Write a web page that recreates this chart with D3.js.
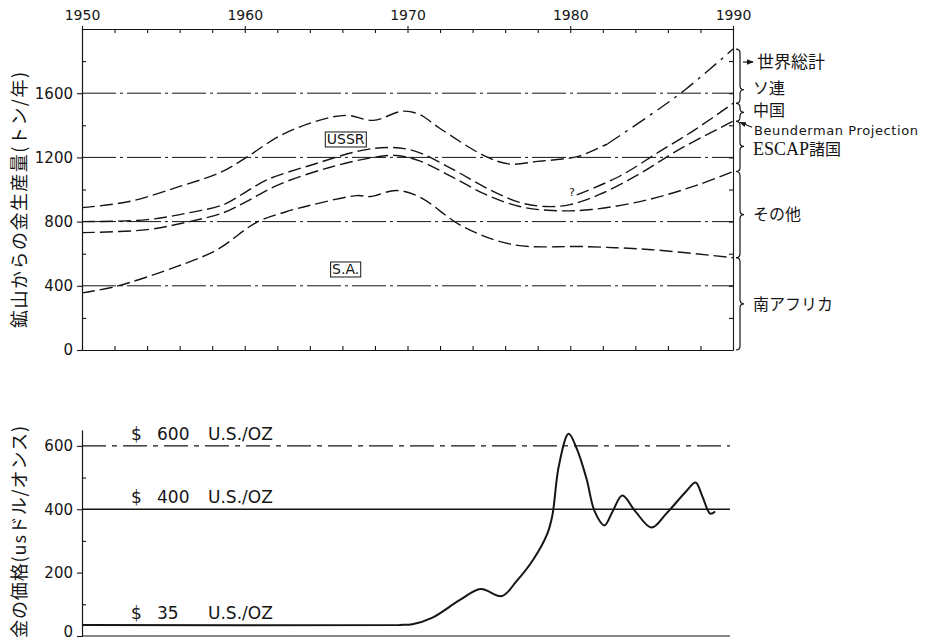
<!DOCTYPE html>
<html>
<head>
<meta charset="utf-8">
<script src="https://cdn.jsdelivr.net/npm/d3@7"></script>
<style>
  body { margin: 0; background: #fff; }
  svg { display: block; }
</style>
</head>
<body>
<svg id="chart" width="925" height="643"></svg>
<script>
// values
const decadeTicks = [1950, 1960, 1970, 1980, 1990]
const prodTicks = [0, 400, 800, 1200, 1600]
const priceTicks = [0, 200, 400, 600]

// [year, t/yr]
const worldTotal = [[1950, 887], [1952.9, 925], [1956, 1019], [1958.5, 1106], [1960.1, 1200], [1962.1, 1331],
  [1964.2, 1419], [1966.2, 1462], [1967.9, 1431], [1969.7, 1488], [1970.7, 1469], [1972, 1380],
  [1974.8, 1206], [1976.3, 1158], [1978, 1175], [1979.5, 1190], [1980.5, 1206], [1982.3, 1285]]
const worldProjection = [[1982.3, 1285], [1984.8, 1456], [1987.1, 1625], [1990, 1875]]
const ussrBase = [[1950, 800], [1954, 812], [1956.6, 856], [1958.7, 906], [1960.1, 987], [1961.4, 1062],
  [1964.2, 1156], [1967.2, 1244], [1968.9, 1262], [1970.5, 1238], [1972.8, 1125], [1974.8, 1012],
  [1976.9, 919], [1978.5, 894], [1980, 906], [1981.8, 969], [1984.2, 1094], [1986.7, 1250], [1990, 1425]]
const chinaTop = [[1980.4, 966], [1983, 1081], [1985.5, 1237], [1987.7, 1375], [1990, 1537]]
const escapBase = [[1950, 731], [1954, 750], [1956.6, 800], [1958.7, 856], [1960.1, 925], [1962.1, 1031],
  [1965.2, 1137], [1967.9, 1200], [1969.3, 1212], [1970.7, 1180], [1972.8, 1075], [1974.8, 969],
  [1976.9, 894], [1978.9, 869], [1981.3, 875], [1984.8, 937], [1987.9, 1031], [1990, 1112]]
const southAfrica = [[1950, 356], [1952, 394], [1955.8, 519], [1958.3, 625], [1960.7, 794], [1962.5, 860],
  [1964.2, 906], [1966.9, 962], [1967.7, 956], [1969.3, 994], [1970.7, 956], [1973.4, 769],
  [1976.5, 656], [1981, 644], [1985, 625], [1990, 575]]

// [year, US$/oz]
const goldPrice = [[1950, 35], [1969.5, 35], [1970.3, 37], [1971.5, 57], [1973.2, 113], [1974.5, 148],
  [1975.8, 126], [1976.7, 173], [1977.7, 239], [1978.6, 324], [1978.9, 380], [1979.3, 537],
  [1979.9, 638], [1980.4, 591], [1981, 496], [1981.5, 393], [1982.1, 349], [1982.6, 393],
  [1983.2, 443], [1984, 393], [1985, 342], [1985.9, 386], [1987.1, 455], [1987.7, 484],
  [1988.1, 443], [1988.6, 386], [1988.9, 393]]
const priceLevels = [600, 400, 35]
const levelNames = ['600', '400', '35']

const bandNames = ['ソ連', '中国', 'ESCAP諸国', 'その他', '南アフリカ']

const svg = d3.select('#chart')
const ink = '#151515'
const numFont = 'DejaVu Sans'
const jpFont = '"Noto Sans CJK JP", "Noto Sans"'

const x = d3.scaleLinear().domain([1950, 1990]).range([82, 733])
const yProd = d3.scaleLinear().domain([0, 2000]).range([350, 29])
const yPrice = d3.scaleLinear().domain([0, 650]).range([636, 430])

function styleAxis(g) {
  g.selectAll('path, line').attr('stroke', ink).attr('stroke-width', 1.1)
  g.selectAll('text').attr('fill', ink).style('font-family', numFont).style('font-size', '14px')
}

// ---------- production chart ----------
const prod = svg.append('g')

prod.selectAll('.grid')
  .data(prodTicks.filter(d => d > 0))
  .enter()
  .append('line')
  .attr('x1', x(1950)).attr('x2', x(1990))
  .attr('y1', d => yProd(d)).attr('y2', d => yProd(d))
  .attr('stroke', ink).attr('stroke-width', 1)
  .attr('stroke-dasharray', '34,4,3,4')

const everyTwo = d3.range(1950, 1991, 2)

prod.append('g')
  .attr('transform', `translate(0,${yProd(2000)})`)
  .call(d3.axisBottom(x).tickValues(everyTwo).tickSize(4).tickSizeOuter(0).tickFormat(''))
  .call(styleAxis)

prod.append('g')
  .attr('transform', `translate(0,${yProd(2000)})`)
  .call(d3.axisTop(x).tickValues(decadeTicks).tickSize(3).tickPadding(6).tickFormat(d3.format('d')))
  .call(styleAxis)
  .call(g => g.select('.domain').remove())

prod.append('g')
  .attr('transform', `translate(0,${yProd(0)})`)
  .call(d3.axisTop(x).tickValues(everyTwo).tickSize(4).tickSizeOuter(0).tickFormat(''))
  .call(styleAxis)

prod.append('g')
  .attr('transform', `translate(${x(1950)},0)`)
  .call(d3.axisRight(yProd).tickValues(d3.range(200, 2000, 400)).tickSize(4).tickSizeOuter(0).tickFormat(''))
  .call(styleAxis)

prod.append('g')
  .attr('transform', `translate(${x(1950)},0)`)
  .call(d3.axisLeft(yProd).tickValues(prodTicks).tickSize(5).tickSizeOuter(0).tickPadding(4).tickFormat(d3.format('d')))
  .call(styleAxis)
  .call(g => g.selectAll('text').style('font-size', '15px'))

prod.append('g')
  .attr('transform', `translate(${x(1990)},0)`)
  .call(d3.axisLeft(yProd).tickValues(d3.range(200, 2000, 200)).tickSize(4).tickSizeOuter(0).tickFormat(''))
  .call(styleAxis)

const lineProd = d3.line()
  .x(d => x(d[0]))
  .y(d => yProd(d[1]))
  .curve(d3.curveCatmullRom.alpha(0.5))

const curves = [
  { data: worldTotal, dash: '13,5' },
  { data: worldProjection, dash: '15,6,3,6' },
  { data: ussrBase, dash: '13,5' },
  { data: chinaTop, dash: '13,5' },
  { data: escapBase, dash: '13,5' },
  { data: southAfrica, dash: '13,5' }
]

prod.selectAll('.curve')
  .data(curves)
  .enter()
  .append('path')
  .attr('d', d => lineProd(d.data))
  .attr('fill', 'none')
  .attr('stroke', ink)
  .attr('stroke-width', 1.4)
  .attr('stroke-dasharray', d => d.dash)

function boxedLabel(text, year, value) {
  const t = prod.append('text')
    .text(text)
    .attr('x', x(year)).attr('y', yProd(value))
    .attr('text-anchor', 'middle').attr('dy', '0.36em')
    .style('font-family', numFont).style('font-size', '14px')
    .attr('fill', ink)
  const b = t.node().getBBox()
  prod.append('rect')
    .attr('x', b.x - 1.5).attr('y', b.y + 1).attr('width', b.width + 3).attr('height', b.height - 1)
    .attr('fill', 'none').attr('stroke', ink).attr('stroke-width', 1)
}
boxedLabel('USSR', 1966.2, 1315)
boxedLabel('S.A.', 1966.2, 505)

prod.append('text')
  .text('?')
  .attr('x', x(1980.1)).attr('y', yProd(960))
  .attr('text-anchor', 'middle')
  .style('font-family', numFont).style('font-size', '11px')
  .attr('fill', ink)

// braces on the right
const ends = [worldProjection, chinaTop, ussrBase, escapBase, southAfrica].map(s => s[s.length - 1][1])
ends.push(0)
const bx = x(1990) + 3
const labelShift = [-2, -2, 3, 0, 0]

function bracePath(y0, y1, ym) {
  const a = bx, b = bx + 4, c = bx + 8
  return `M${a},${y0} Q${b},${y0} ${b},${y0 + 4} L${b},${ym - 4} Q${b},${ym} ${c},${ym}` +
    ` Q${b},${ym} ${b},${ym + 4} L${b},${y1 - 4} Q${b},${y1} ${a},${y1}`
}

bandNames.forEach((name, i) => {
  const y0 = yProd(ends[i]), y1 = yProd(ends[i + 1])
  const ym = i === 0 ? y0 + (y1 - y0) * 0.75 : (y0 + y1) / 2
  prod.append('path')
    .attr('d', bracePath(y0, y1, ym))
    .attr('fill', 'none').attr('stroke', ink).attr('stroke-width', 1.2)
  const t = prod.append('text')
    .attr('x', bx + 17).attr('y', ym + labelShift[i]).attr('dy', '0.36em')
    .attr('fill', ink)
    .style('font-family', jpFont).style('font-size', '16px')
  if (name.startsWith('ESCAP')) {
    t.append('tspan').text('ESCAP').style('font-family', 'Liberation Serif').style('font-size', '18px')
    t.append('tspan').text('諸国')
  } else {
    t.text(name)
  }
})

const marker = svg.append('defs').append('marker')
  .attr('id', 'arrow').attr('viewBox', '0 0 10 10')
  .attr('refX', 9).attr('refY', 5)
  .attr('markerWidth', 6).attr('markerHeight', 6)
  .attr('orient', 'auto')
marker.append('path').attr('d', 'M0,1 L10,5 L0,9 z').attr('fill', ink)

const worldY = yProd(ends[0]) + 13
prod.append('line')
  .attr('x1', bx + 7).attr('x2', bx + 17)
  .attr('y1', worldY).attr('y2', worldY)
  .attr('stroke', ink).attr('stroke-width', 1.2)
  .attr('marker-end', 'url(#arrow)')
prod.append('text')
  .text('世界総計')
  .attr('x', bx + 21).attr('y', worldY).attr('dy', '0.36em')
  .attr('fill', ink)
  .style('font-family', jpFont).style('font-size', '17px')

const projY = yProd(ends[2])
prod.append('line')
  .attr('x1', bx + 16).attr('x2', bx + 4)
  .attr('y1', projY + 6).attr('y2', projY + 1)
  .attr('stroke', ink).attr('stroke-width', 1.1)
  .attr('marker-end', 'url(#arrow)')
prod.append('text')
  .text('Beunderman Projection')
  .attr('x', bx + 18).attr('y', projY + 9).attr('dy', '0.36em')
  .attr('fill', ink)
  .style('font-family', numFont).style('font-size', '13px')
  .style('letter-spacing', '0.6px')

svg.append('text')
  .text('鉱山からの金生産量(トン/年)')
  .attr('transform', 'translate(26,200) rotate(-90)')
  .attr('text-anchor', 'middle')
  .attr('textLength', 256).attr('lengthAdjust', 'spacing')
  .attr('fill', ink)
  .style('font-family', jpFont).style('font-size', '18px')

// ---------- price chart ----------
const price = svg.append('g')

price.append('g')
  .attr('transform', `translate(${x(1950)},0)`)
  .call(d3.axisRight(yPrice).tickValues([100, 300, 500]).tickSize(4).tickSizeOuter(0).tickFormat(''))
  .call(styleAxis)

price.append('g')
  .attr('transform', `translate(${x(1950)},0)`)
  .call(d3.axisLeft(yPrice).tickValues(priceTicks).tickSize(5).tickSizeOuter(0).tickPadding(4))
  .call(styleAxis)
  .call(g => g.selectAll('text').style('font-size', '15px'))
  .call(g => g.selectAll('.tick text').filter(d => d === 0).attr('dy', '0.05em'))

price.append('line')
  .attr('x1', x(1950)).attr('x2', x(1990) - 3)
  .attr('y1', yPrice(0)).attr('y2', yPrice(0))
  .attr('stroke', ink).attr('stroke-width', 1.1)

price.selectAll('.level')
  .data(priceLevels.slice(0, 2))
  .enter()
  .append('line')
  .attr('x1', x(1950)).attr('x2', x(1990) - 3)
  .attr('y1', d => yPrice(d)).attr('y2', d => yPrice(d))
  .attr('stroke', ink).attr('stroke-width', 1.3)
  .attr('stroke-dasharray', d => d === 600 ? '24,6,5,6' : null)

priceLevels.forEach((lv, i) => {
  const t = price.append('text')
    .attr('y', yPrice(lv) - 6)
    .attr('fill', ink)
    .style('font-family', numFont).style('font-size', '17px')
  t.append('tspan').attr('x', 131).text('$')
  t.append('tspan').attr('x', 157).text(levelNames[i])
  t.append('tspan').attr('x', 208).text('U.S./OZ')
})

const linePrice = d3.line()
  .x(d => x(d[0]))
  .y(d => yPrice(d[1]))
  .curve(d3.curveCatmullRom.alpha(0.5))

price.append('path')
  .attr('d', linePrice(goldPrice))
  .attr('fill', 'none')
  .attr('stroke', ink)
  .attr('stroke-width', 2)

svg.append('text')
  .text('金の価格(usドル/オンス)')
  .attr('transform', 'translate(26,532) rotate(-90)')
  .attr('text-anchor', 'middle')
  .attr('textLength', 212).attr('lengthAdjust', 'spacing')
  .attr('fill', ink)
  .style('font-family', jpFont).style('font-size', '18px')
</script>
</body>
</html>
